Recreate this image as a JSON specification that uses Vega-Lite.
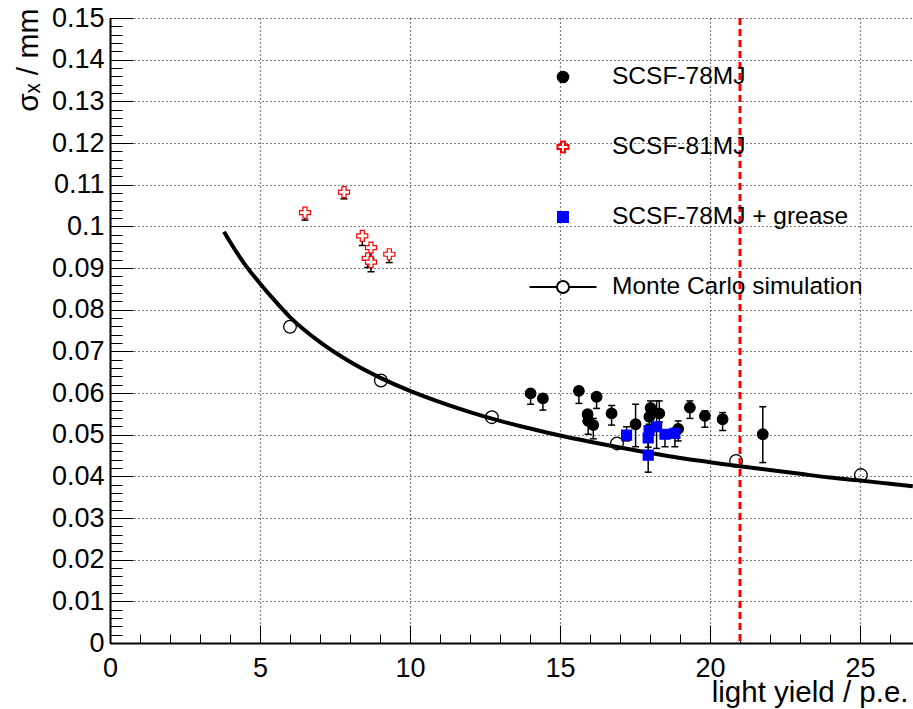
{
  "$schema": "https://vega.github.io/schema/vega-lite/v6.json",
  "width": 803,
  "height": 625,
  "autosize": "none",
  "padding": {"left": 110, "top": 18, "right": 0, "bottom": 66},
  "background": "white",
  "config": {
    "view": {"stroke": null},
    "font": "Liberation Sans",
    "text": {"font": "Liberation Sans"}
  },
  "datasets": {
    "mc": [
      {"x": 3.8, "y": 0.0987}, {"x": 4, "y": 0.0963}, {"x": 4.5, "y": 0.0908}, {"x": 5, "y": 0.0863},
      {"x": 5.5, "y": 0.0821}, {"x": 6, "y": 0.0782}, {"x": 7, "y": 0.0722}, {"x": 8, "y": 0.0675},
      {"x": 9, "y": 0.0637}, {"x": 10, "y": 0.0605}, {"x": 11, "y": 0.0578}, {"x": 12, "y": 0.0554},
      {"x": 13, "y": 0.0533}, {"x": 14, "y": 0.0515}, {"x": 15, "y": 0.0498}, {"x": 16, "y": 0.0483},
      {"x": 17, "y": 0.0469}, {"x": 18, "y": 0.0456}, {"x": 19, "y": 0.0444}, {"x": 20, "y": 0.0434},
      {"x": 21, "y": 0.0424}, {"x": 22, "y": 0.0415}, {"x": 23, "y": 0.0406}, {"x": 24, "y": 0.0397},
      {"x": 25, "y": 0.039}, {"x": 26, "y": 0.0382}, {"x": 26.76, "y": 0.0376}
    ],
    "mcc": [
      {"x": 6.0, "y": 0.0759}, {"x": 9.03, "y": 0.063}, {"x": 12.73, "y": 0.0542},
      {"x": 16.9, "y": 0.0479}, {"x": 20.87, "y": 0.0437}, {"x": 25.03, "y": 0.0403}
    ],
    "cut": [{"x": 21}],
    "pts": [
      {"series": "SCSF-78MJ", "x": 14.02, "y": 0.0599, "lo": 0.0573, "hi": 0.0605},
      {"series": "SCSF-78MJ", "x": 14.43, "y": 0.0587, "lo": 0.0559, "hi": 0.0593},
      {"series": "SCSF-78MJ", "x": 15.63, "y": 0.0605, "lo": 0.0575, "hi": 0.0611},
      {"series": "SCSF-78MJ", "x": 16.22, "y": 0.0591, "lo": 0.0563, "hi": 0.0597},
      {"series": "SCSF-78MJ", "x": 15.92, "y": 0.0549, "lo": 0.0535, "hi": 0.0556},
      {"series": "SCSF-78MJ", "x": 15.94, "y": 0.0533, "lo": 0.0501, "hi": 0.0545},
      {"series": "SCSF-78MJ", "x": 16.11, "y": 0.0523, "lo": 0.049, "hi": 0.0539},
      {"series": "SCSF-78MJ", "x": 16.72, "y": 0.0551, "lo": 0.0523, "hi": 0.057},
      {"series": "SCSF-78MJ", "x": 17.52, "y": 0.0525, "lo": 0.0471, "hi": 0.0573},
      {"series": "SCSF-78MJ", "x": 18.02, "y": 0.0564, "lo": 0.054, "hi": 0.0581},
      {"series": "SCSF-78MJ", "x": 17.98, "y": 0.0543, "lo": 0.052, "hi": 0.0553},
      {"series": "SCSF-78MJ", "x": 18.31, "y": 0.0551, "lo": 0.053, "hi": 0.0581},
      {"series": "SCSF-78MJ", "x": 18.94, "y": 0.0514, "lo": 0.0485, "hi": 0.0533},
      {"series": "SCSF-78MJ", "x": 19.33, "y": 0.0565, "lo": 0.0539, "hi": 0.0581},
      {"series": "SCSF-78MJ", "x": 19.83, "y": 0.0545, "lo": 0.0518, "hi": 0.0557},
      {"series": "SCSF-78MJ", "x": 20.42, "y": 0.0537, "lo": 0.051, "hi": 0.0553},
      {"series": "SCSF-78MJ", "x": 21.76, "y": 0.0501, "lo": 0.0433, "hi": 0.0567},
      {"series": "SCSF-81MJ", "x": 6.5, "y": 0.1033, "lo": 0.1015, "hi": 0.1037},
      {"series": "SCSF-81MJ", "x": 7.8, "y": 0.1082, "lo": 0.1066, "hi": 0.1086},
      {"series": "SCSF-81MJ", "x": 8.41, "y": 0.0977, "lo": 0.0954, "hi": 0.098},
      {"series": "SCSF-81MJ", "x": 8.7, "y": 0.0949, "lo": 0.0923, "hi": 0.0952},
      {"series": "SCSF-81MJ", "x": 8.59, "y": 0.0923, "lo": 0.0901, "hi": 0.0926},
      {"series": "SCSF-81MJ", "x": 8.7, "y": 0.0914, "lo": 0.0891, "hi": 0.0917},
      {"series": "SCSF-81MJ", "x": 9.31, "y": 0.0933, "lo": 0.0913, "hi": 0.0936},
      {"series": "SCSF-78MJ + grease", "x": 17.22, "y": 0.0499, "lo": 0.0485, "hi": 0.0519},
      {"series": "SCSF-78MJ + grease", "x": 17.94, "y": 0.0492, "lo": 0.047, "hi": 0.0505},
      {"series": "SCSF-78MJ + grease", "x": 17.97, "y": 0.051, "lo": 0.049, "hi": 0.0525},
      {"series": "SCSF-78MJ + grease", "x": 17.94, "y": 0.0451, "lo": 0.041, "hi": 0.049},
      {"series": "SCSF-78MJ + grease", "x": 18.22, "y": 0.0519, "lo": 0.0467, "hi": 0.0581},
      {"series": "SCSF-78MJ + grease", "x": 18.5, "y": 0.0501, "lo": 0.0471, "hi": 0.051},
      {"series": "SCSF-78MJ + grease", "x": 18.83, "y": 0.0503, "lo": 0.0471, "hi": 0.0515}
    ]
  },
  "layer": [
    {
      "data": {"name": "mc"},
      "mark": {"type": "line", "color": "black", "strokeWidth": 4, "interpolate": "monotone"},
      "encoding": {
        "x": {
          "field": "x", "type": "quantitative",
          "scale": {"domain": [0, 26.767], "nice": false, "zero": false},
          "axis": {
            "orient": "bottom",
            "values": [0, 5, 10, 15, 20, 25],
            "format": "d",
            "title": "light yield / p.e.",
            "grid": true, "gridDash": [1, 3], "gridColor": "black", "gridOpacity": 1, "gridWidth": 1.2,
            "tickSize": -18, "tickColor": "black", "tickWidth": 1,
            "domainColor": "black", "domainWidth": 2,
            "labelFont": "Liberation Sans", "labelFontSize": 27, "labelColor": "black",
            "labelPadding": 30, "labelFlush": false, "labelOverlap": false,
            "titleFont": "Liberation Sans", "titleFontSize": 29.5, "titleFontWeight": "normal", "titleColor": "black",
            "titleAnchor": "end", "titleAlign": "right", "titleBaseline": "alphabetic",
            "titleX": 798, "titleY": 58
          }
        },
        "y": {
          "field": "y", "type": "quantitative",
          "scale": {"domain": [0, 0.15], "nice": false, "zero": false},
          "axis": {
            "orient": "left",
            "values": [0, 0.01, 0.02, 0.03, 0.04, 0.05, 0.06, 0.07, 0.08, 0.09, 0.1, 0.11, 0.12, 0.13, 0.14, 0.15],
            "format": "~g",
            "title": "σₓ / mm",
            "grid": true, "gridDash": [1, 3], "gridColor": "black", "gridOpacity": 1, "gridWidth": 1.2,
            "tickSize": -23, "tickColor": "black", "tickWidth": 1,
            "domainColor": "black", "domainWidth": 2,
            "labelFont": "Liberation Sans", "labelFontSize": 27, "labelColor": "black",
            "labelPadding": 29, "labelFlush": false, "labelOverlap": false,
            "titleFont": "Liberation Sans", "titleFontSize": 30, "titleFontWeight": "normal", "titleColor": "black",
            "titleAngle": 270, "titleAlign": "right", "titleBaseline": "middle", "titleAnchor": "end",
            "titleX": -82, "titleY": -10
          }
        }
      }
    },
    {
      "data": {"name": "cut"},
      "mark": {"type": "rule", "color": "#ff0000", "strokeWidth": 3, "strokeDash": [7, 4]},
      "encoding": {
        "x": {
          "field": "x", "type": "quantitative",
          "scale": {"domain": [0, 26.767], "nice": false, "zero": false},
          "axis": {
            "orient": "bottom",
            "values": [0, 1, 2, 3, 4, 5, 6, 7, 8, 9, 10, 11, 12, 13, 14, 15, 16, 17, 18, 19, 20, 21, 22, 23, 24, 25, 26],
            "labels": false, "grid": false, "domain": false, "title": null,
            "tickSize": -9, "tickColor": "black", "tickWidth": 1
          }
        }
      }
    },
    {
      "data": {"name": "mcc"},
      "mark": {"type": "point", "shape": "circle", "filled": false, "stroke": "black", "strokeWidth": 1.3, "size": 160, "opacity": 1},
      "encoding": {
        "x": {"field": "x", "type": "quantitative", "axis": null},
        "y": {
          "field": "y", "type": "quantitative",
          "axis": {
            "orient": "left",
            "values": [0, 0.002, 0.004, 0.006, 0.008, 0.01, 0.012, 0.014, 0.016, 0.018, 0.02, 0.022, 0.024, 0.026, 0.028, 0.03, 0.032, 0.034, 0.036, 0.038, 0.04, 0.042, 0.044, 0.046, 0.048, 0.05, 0.052, 0.054, 0.056, 0.058, 0.06, 0.062, 0.064, 0.066, 0.068, 0.07, 0.072, 0.074, 0.076, 0.078, 0.08, 0.082, 0.084, 0.086, 0.088, 0.09, 0.092, 0.094, 0.096, 0.098, 0.1, 0.102, 0.104, 0.106, 0.108, 0.11, 0.112, 0.114, 0.116, 0.118, 0.12, 0.122, 0.124, 0.126, 0.128, 0.13, 0.132, 0.134, 0.136, 0.138, 0.14, 0.142, 0.144, 0.146, 0.148, 0.15],
            "labels": false, "grid": false, "domain": false, "title": null,
            "tickSize": -12, "tickColor": "black", "tickWidth": 1
          }
        }
      }
    },
    {
      "data": {"name": "pts"},
      "mark": {"type": "rule", "color": "black", "strokeWidth": 1.5},
      "encoding": {
        "x": {"field": "x", "type": "quantitative", "axis": null},
        "y": {"field": "lo", "type": "quantitative", "axis": null},
        "y2": {"field": "hi"}
      }
    },
    {
      "data": {"name": "pts"},
      "mark": {"type": "tick", "orient": "horizontal", "color": "black", "size": 7, "thickness": 1.5, "opacity": 1},
      "encoding": {
        "x": {"field": "x", "type": "quantitative", "axis": null},
        "y": {"field": "lo", "type": "quantitative", "axis": null}
      }
    },
    {
      "data": {"name": "pts"},
      "mark": {"type": "tick", "orient": "horizontal", "color": "black", "size": 7, "thickness": 1.5, "opacity": 1},
      "encoding": {
        "x": {"field": "x", "type": "quantitative", "axis": null},
        "y": {"field": "hi", "type": "quantitative", "axis": null}
      }
    },
    {
      "data": {"name": "pts"},
      "mark": {"type": "point", "size": 4489, "strokeWidth": 1.2, "opacity": 1},
      "encoding": {
        "x": {"field": "x", "type": "quantitative", "axis": null},
        "y": {"field": "y", "type": "quantitative", "axis": null},
        "fill": {
          "field": "series", "type": "nominal",
          "scale": {"domain": ["SCSF-78MJ", "SCSF-81MJ", "SCSF-78MJ + grease", "Monte Carlo simulation"], "range": ["black", "white", "blue", "white"]},
          "legend": {"title": null, "orient": "none", "legendX": 418.5, "legendY": 24.5, "padding": 0, "symbolSize": 4489, "symbolStrokeWidth": 2, "rowPadding": 24, "labelOffset": 14.5, "labelFont": "Liberation Sans", "labelFontSize": 24.5, "labelColor": "black", "labelLimit": 400, "symbolOpacity": 1}
        },
        "stroke": {
          "field": "series", "type": "nominal",
          "scale": {"domain": ["SCSF-78MJ", "SCSF-81MJ", "SCSF-78MJ + grease", "Monte Carlo simulation"], "range": ["black", "red", "blue", "black"]},
          "legend": {"title": null, "orient": "none", "legendX": 418.5, "legendY": 24.5, "padding": 0, "symbolSize": 4489, "symbolStrokeWidth": 2, "rowPadding": 24, "labelOffset": 14.5, "labelFont": "Liberation Sans", "labelFontSize": 24.5, "labelColor": "black", "labelLimit": 400, "symbolOpacity": 1}
        },
        "shape": {
          "field": "series", "type": "nominal",
          "scale": {"domain": ["SCSF-78MJ", "SCSF-81MJ", "SCSF-78MJ + grease", "Monte Carlo simulation"], "range": [
            "M0.158,0A0.158,0.158,0,1,1,-0.158,0A0.158,0.158,0,1,1,0.158,0Z",
            "M-0.06,-0.164L0.06,-0.164L0.06,-0.06L0.164,-0.06L0.164,0.06L0.06,0.06L0.06,0.164L-0.06,0.164L-0.06,0.06L-0.164,0.06L-0.164,-0.06L-0.06,-0.06Z",
            "M-0.149,-0.149L0.149,-0.149L0.149,0.149L-0.149,0.149Z",
            "M-1,0L-0.18,0M0.18,0L1,0M0.18,0A0.18,0.18,0,1,1,-0.18,0A0.18,0.18,0,1,1,0.18,0Z"
          ]},
          "legend": {"title": null, "orient": "none", "legendX": 418.5, "legendY": 24.5, "padding": 0, "symbolSize": 4489, "symbolStrokeWidth": 2, "rowPadding": 24, "labelOffset": 14.5, "labelFont": "Liberation Sans", "labelFontSize": 24.5, "labelColor": "black", "labelLimit": 400, "symbolOpacity": 1}
        }
      }
    }
  ],
  "resolve": {"axis": {"x": "independent", "y": "independent"}}
}
